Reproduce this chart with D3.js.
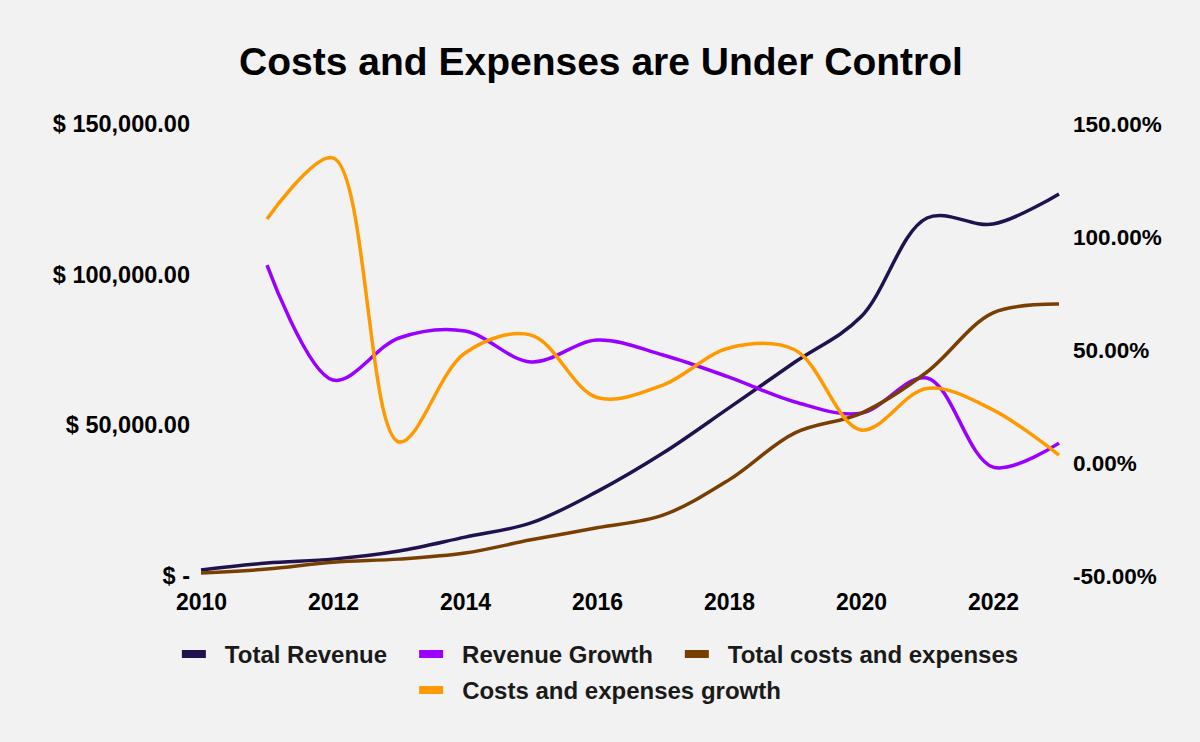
<!DOCTYPE html>
<html>
<head>
<meta charset="utf-8">
<script src="https://cdn.jsdelivr.net/npm/d3@7"></script>
<style>
  html, body { margin: 0; padding: 0; background: #f2f2f2; }
  svg { display: block; font-family: "Liberation Sans", Arial, sans-serif; }
</style>
</head>
<body>
<svg id="chart" width="1200" height="742"></svg>
<script>
const years = [2010, 2011, 2012, 2013, 2014, 2015, 2016, 2017, 2018, 2019, 2020, 2021, 2022, 2023];
const totalRevenue = [2000, 4300, 5600, 8300, 12900, 17600, 28000, 40800, 55800, 71000, 86000, 118800, 116800, 126800];
const totalCosts = [1000, 2300, 4600, 5600, 7600, 12000, 16000, 20200, 31900, 47500, 54000, 67700, 87300, 90300];
const revenueGrowth = [null, 87.6, 36.7, 55.3, 58.4, 44.7, 54.4, 47.8, 38.0, 27.0, 22.0, 37.6, -1.8, 8.8];
const costsGrowth = [null, 108, 135, 9.3, 48.7, 56.6, 29.0, 34.5, 50.9, 50.0, 14.6, 33.0, 23.5, 3.5];

const xTickLabels = ["2010", "2012", "2014", "2016", "2018", "2020", "2022"];
const leftTicks = [0, 50000, 100000, 150000];
const leftTickLabels = ["$ -", "$ 50,000.00", "$ 100,000.00", "$ 150,000.00"];
const rightTicks = [-50, 0, 50, 100, 150];
const rightTickLabels = ["-50.00%", "0.00%", "50.00%", "100.00%", "150.00%"];

const title = "Costs and Expenses are Under Control";
const seriesNames = ["Total Revenue", "Revenue Growth", "Total costs and expenses", "Costs and expenses growth"];
const seriesColors = ["#20124d", "#9900ff", "#783f04", "#ff9900"];

const svg = d3.select("#chart");
svg.append("rect").attr("width", 1200).attr("height", 742).attr("fill", "#f2f2f2");

const x = d3.scaleLinear().domain([2010, 2023]).range([201, 1059]);
const yL = d3.scaleLinear().domain([0, 150000]).range([576, 124]);
const yR = d3.scaleLinear().domain([-50, 150]).range([576, 124]);

// Title
svg.append("text")
  .attr("x", 601).attr("y", 75)
  .attr("text-anchor", "middle")
  .attr("font-size", 39).attr("font-weight", "bold").attr("fill", "#000")
  .text(title);

// Left axis
const leftAxis = d3.axisLeft(yL).tickValues(leftTicks)
  .tickFormat((d, i) => leftTickLabels[i]).tickSize(0).tickPadding(0);
const gL = svg.append("g").attr("transform", "translate(190,0)").call(leftAxis);
gL.select(".domain").remove();
gL.selectAll("text").attr("font-size", 23.5).attr("font-weight", "bold").attr("fill", "#000")
  .attr("font-family", "Liberation Sans, Arial, sans-serif");

// Right axis
const rightAxis = d3.axisRight(yR).tickValues(rightTicks)
  .tickFormat((d, i) => rightTickLabels[i]).tickSize(0).tickPadding(0);
const gR = svg.append("g").attr("transform", "translate(1073,0)").call(rightAxis);
gR.select(".domain").remove();
gR.selectAll("text").attr("font-size", 22.5).attr("font-weight", "bold").attr("fill", "#000")
  .attr("font-family", "Liberation Sans, Arial, sans-serif");

// Bottom axis
const xAxis = d3.axisBottom(x).tickValues(xTickLabels.map(Number))
  .tickFormat((d, i) => xTickLabels[i]).tickSize(0).tickPadding(0);
const gX = svg.append("g").attr("transform", "translate(0,593)").call(xAxis);
gX.select(".domain").remove();
gX.selectAll("text").attr("font-size", 23).attr("font-weight", "bold").attr("fill", "#000")
  .attr("dy", "0.72em")
  .attr("font-family", "Liberation Sans, Arial, sans-serif");

// Lines
const curve = d3.curveCatmullRom.alpha(0.5);
function drawLine(values, yScale, color) {
  const pts = years.map((yr, i) => ({ yr, v: values[i] })).filter(d => d.v !== null);
  const line = d3.line().x(d => x(d.yr)).y(d => yScale(d.v)).curve(curve);
  svg.append("path").datum(pts)
    .attr("d", line).attr("fill", "none")
    .attr("stroke", color).attr("stroke-width", 3.5)
    .attr("stroke-linejoin", "round");
}
drawLine(totalRevenue, yL, seriesColors[0]);
drawLine(revenueGrowth, yR, seriesColors[1]);
drawLine(totalCosts, yL, seriesColors[2]);
drawLine(costsGrowth, yR, seriesColors[3]);

// Legend
const rows = [[0, 1, 2], [3]];
const rowY = [654, 690];
rows.forEach((row, ri) => {
  const g = svg.append("g");
  let cx = 0;
  row.forEach(idx => {
    const item = g.append("g").attr("transform", `translate(${cx},0)`);
    item.append("rect").attr("x", 0).attr("y", -4).attr("width", 24).attr("height", 8)
      .attr("fill", seriesColors[idx]);
    const t = item.append("text").attr("x", 43).attr("y", 8.5)
      .attr("font-size", 24).attr("font-weight", "bold").attr("fill", "#1a1a1a")
      .text(seriesNames[idx]);
    const w = t.node().getComputedTextLength();
    cx += 43 + w + 32;
  });
  const total = cx - 32;
  g.attr("transform", `translate(${600 - total / 2},${rowY[ri]})`);
});
</script>
</body>
</html>
